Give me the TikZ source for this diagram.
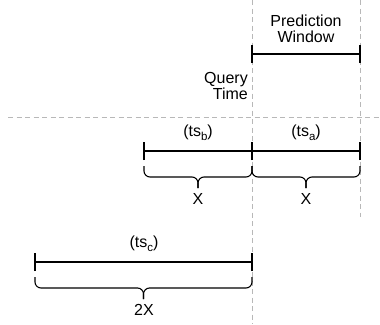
\documentclass[tikz,border=0pt]{standalone}
\usepackage{fontspec}
\setmainfont{Liberation Sans}
\newcommand{\mysub}[1]{\raisebox{-3.5pt}{\fontsize{11.5}{12}\selectfont #1}}
\begin{document}
\begin{tikzpicture}[x=1pt,y=-1pt,
  guide/.style={draw=black!28,line width=0.8pt,dash pattern=on 5pt off 3.5pt},
  bar/.style={draw=black,line width=1.2pt},
  tickmark/.style={draw=black,line width=1.2pt},
  brc/.style={draw=black,line width=1.1pt,rounded corners=6pt},
  lbl/.style={font=\fontsize{16}{18}\selectfont,inner sep=0pt},
]
\useasboundingbox (0,0) rectangle (380,324);
% guides
\coordinate (v1t) at (252,0); \coordinate (v1b) at (252,324);
\coordinate (v2t) at (360,0); \coordinate (v2b) at (360,217);
\coordinate (hl) at (8,117); \coordinate (hr) at (380,117);
\draw[guide] (v1t) -- (v1b);
\draw[guide] (v2t) -- (v2b);
\draw[guide] (hl) -- (hr);
% prediction window
\coordinate (p1) at (252,54); \coordinate (p2) at (360,54);
\draw[bar] (p1) -- (p2);
\draw[tickmark] ([yshift=-9pt]p1) -- ([yshift=9pt]p1);
\draw[tickmark] ([yshift=-9pt]p2) -- ([yshift=9pt]p2);
\node[lbl,align=center] (pw) at (306,29) {Prediction\\[-2pt]Window};
\node[lbl,align=right,anchor=east] (qt) at (248,86) {Query\\[-2pt]Time};
% row 2
\coordinate (a1) at (144,151); \coordinate (a2) at (252,151); \coordinate (a3) at (360,151);
\draw[bar] (a1) -- (a3);
\foreach \c in {a1,a2,a3} \draw[tickmark] ([yshift=-9pt]\c) -- ([yshift=9pt]\c);
\node[lbl] (tsb) at (198,133) {(ts\mysub{b})};
\node[lbl] (tsa) at (306,133) {(ts\mysub{a})};
% braces row 2
\draw[brc] (144,166) -- (144,177) -- (198,177) -- (198,188);
\draw[brc] (252,166) -- (252,177) -- (198,177) -- (198,188);
\draw[brc] (252,166) -- (252,177) -- (306,177) -- (306,188);
\draw[brc] (360,166) -- (360,177) -- (306,177) -- (306,188);
\node[lbl] (x1) at (198,199) {X};
\node[lbl] (x2) at (306,199) {X};
% row 3
\coordinate (c1) at (35,262); \coordinate (c2) at (252,262);
\draw[bar] (c1) -- (c2);
\foreach \c in {c1,c2} \draw[tickmark] ([yshift=-9pt]\c) -- ([yshift=9pt]\c);
\node[lbl] (tsc) at (144,244) {(ts\mysub{c})};
\draw[brc] (35,277) -- (35,288) -- (143.5,288) -- (143.5,299);
\draw[brc] (252,277) -- (252,288) -- (143.5,288) -- (143.5,299);
\node[lbl] (x3) at (144,310) {2X};
\end{tikzpicture}
\end{document}
